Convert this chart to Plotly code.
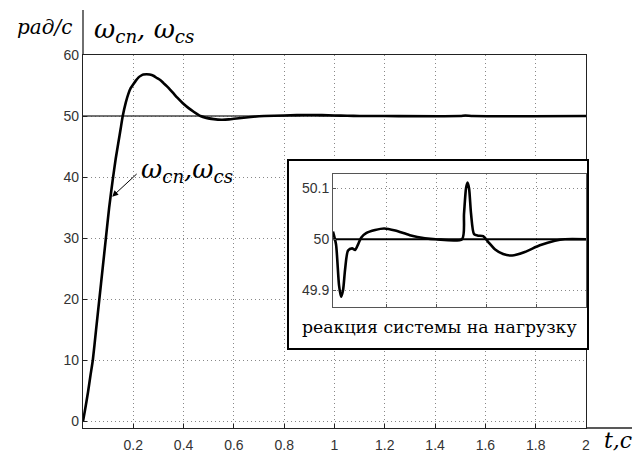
import plotly.graph_objects as go

# ---- main response data ----
t_main = [0, 0.007, 0.02, 0.03, 0.039, 0.052, 0.065, 0.078, 0.091, 0.104, 0.118, 0.13, 0.14,
          0.15, 0.158, 0.17, 0.18, 0.19, 0.2, 0.21, 0.22, 0.23, 0.24, 0.253, 0.265, 0.28,
          0.295, 0.307, 0.32, 0.333, 0.347, 0.36, 0.375, 0.397, 0.42, 0.44, 0.467, 0.49, 0.52,
          0.55, 0.58, 0.61, 0.667, 0.72, 0.8, 0.85, 0.9, 0.95, 1.0, 1.05, 1.1, 1.2, 1.5,
          1.52, 1.55, 2.0]
w_main = [0, 1.6, 4.8, 7.6, 10, 15, 20, 25, 30, 35, 39.5, 43, 45.5,
          48, 50, 52.2, 53.6, 54.6, 55.2, 55.8, 56.3, 56.6, 56.8, 56.85, 56.8, 56.6,
          56.2, 55.9, 55.4, 54.9, 54.3, 53.7, 53.0, 52.1, 51.3, 50.7, 50.0, 49.7, 49.5,
          49.4, 49.45, 49.6, 49.85, 50.0, 50.1, 50.15, 50.18, 50.15, 50.1, 50.05, 50.0, 50.0,
          50.0, 50.1, 50.0, 50.0]
ref_t = [0, 2]
ref_w = [50, 50]

x_ticks = [0.2, 0.4, 0.6, 0.8, 1.0, 1.2, 1.4, 1.6, 1.8, 2.0]
x_ticktext = ["0.2", "0.4", "0.6", "0.8", "1", "1.2", "1.4", "1.6", "1.8", "2"]
y_ticks = [0, 10, 20, 30, 40, 50, 60]
y_ticktext = ["0", "10", "20", "30", "40", "50", "60"]

# ---- inset (load response) data ----
x_in = [-0.06, 0.0, 0.06, 0.10, 0.14, 0.18, 0.24, 0.32, 0.38, 0.44, 0.50, 0.60, 0.78, 0.96,
        1.18, 1.47, 1.77, 1.99, 2.51, 2.55, 2.59, 2.62, 2.65, 2.69, 2.75, 2.83, 2.93, 3.03,
        3.17, 3.33, 3.51, 3.76, 4.06, 4.36, 4.56, 4.98]
w_in = [50.015, 49.99, 49.91, 49.887, 49.90, 49.94, 49.978, 49.982, 49.979, 49.99, 50.003,
        50.012, 50.018, 50.021, 50.017, 50.008, 50.002, 50.0, 50.0, 50.05, 50.10, 50.111,
        50.10, 50.05, 50.01, 50.007, 50.006, 49.995, 49.98, 49.971, 49.968, 49.975, 49.988,
        49.997, 50.0, 50.0]
in_ref_x = [-0.06, 4.98]
in_ref_w = [50, 50]
in_xticks = [1, 2, 3, 4]
in_yticks = [49.9, 50.0, 50.1]
in_yticktext = ["49.9", "50", "50.1"]

GRID = "#888888"
GRIDDASH = "1px,3px"
AX = "#222222"
TICKFONT = dict(family="Liberation Sans, Arial, sans-serif", size=14, color="#333333")
SERIF = "DejaVu Serif, Liberation Serif, serif"

fig = go.Figure()

fig.add_trace(go.Scatter(x=ref_t, y=ref_w, mode="lines",
                         line=dict(color="#444444", width=1.5), xaxis="x", yaxis="y",
                         hoverinfo="skip"))
fig.add_trace(go.Scatter(x=t_main, y=w_main, mode="lines", line_shape="spline",
                         line=dict(color="black", width=2.6, smoothing=0.5),
                         xaxis="x", yaxis="y"))

# invisible trace for the white box subplot
fig.add_trace(go.Scatter(x=[0], y=[0], mode="markers", marker=dict(opacity=0),
                         xaxis="x2", yaxis="y2", hoverinfo="skip"))

fig.add_trace(go.Scatter(x=in_ref_x, y=in_ref_w, mode="lines",
                         line=dict(color="black", width=2.2), xaxis="x3", yaxis="y3",
                         hoverinfo="skip"))
fig.add_trace(go.Scatter(x=x_in, y=w_in, mode="lines", line_shape="spline",
                         line=dict(color="black", width=2.6, smoothing=0.7),
                         xaxis="x3", yaxis="y3"))

W, H = 640, 453
ML, MR, MT, MB = 83, 37, 55, 25
PW = W - ML - MR
PH = H - MT - MB


def px(x):
    return (x - ML) / PW


def py(y):
    return (H - MB - y) / PH


fig.update_layout(
    width=W, height=H,
    margin=dict(l=ML, r=MR, t=MT, b=MB, autoexpand=False),
    paper_bgcolor="white", plot_bgcolor="white",
    showlegend=False,
    xaxis=dict(domain=[0, px(586)], range=[0, 2], tickvals=x_ticks, ticktext=x_ticktext,
               showgrid=True, gridcolor=GRID, griddash=GRIDDASH, gridwidth=1,
               showline=True, linecolor=AX, linewidth=1.3, mirror=True,
               ticks="inside", ticklen=4, tickcolor=AX, tickfont=TICKFONT,
               ticklabelstandoff=4, automargin=False, zeroline=False, anchor="y"),
    yaxis=dict(domain=[0, 1], range=[-1.1, 60], tickvals=y_ticks, ticktext=y_ticktext,
               showgrid=True, gridcolor=GRID, griddash=GRIDDASH, gridwidth=1,
               showline=True, linecolor=AX, linewidth=1.3, mirror=True,
               ticks="inside", ticklen=4, tickcolor=AX, tickfont=TICKFONT,
               automargin=False, zeroline=False, anchor="x"),
    xaxis2=dict(domain=[px(289), px(587)], range=[0, 1], showgrid=False, zeroline=False,
                showticklabels=False, showline=True, linecolor="black", linewidth=2.2,
                mirror=True, anchor="y2"),
    yaxis2=dict(domain=[py(348), py(161)], range=[0, 1], showgrid=False, zeroline=False,
                showticklabels=False, showline=True, linecolor="black", linewidth=2.2,
                mirror=True, anchor="x2"),
    xaxis3=dict(domain=[px(333), px(586)], range=[-0.06, 4.98], tickvals=in_xticks,
                showticklabels=False, showgrid=True, gridcolor=GRID, griddash=GRIDDASH,
                showline=True, linecolor="#555555", linewidth=1, mirror=True,
                ticks="inside", ticklen=3, tickcolor="#555555", zeroline=False, anchor="y3"),
    yaxis3=dict(domain=[py(307), py(174)], range=[49.867, 50.128], tickvals=in_yticks,
                ticktext=in_yticktext, showgrid=True, gridcolor=GRID, griddash=GRIDDASH,
                showline=True, linecolor="#555555", linewidth=1, mirror=True,
                ticks="inside", ticklen=3, tickcolor="#555555", tickfont=TICKFONT,
                zeroline=False, anchor="x3"),
)

fig.update_layout(shapes=[
    dict(type="line", xref="paper", yref="paper", x0=0, x1=0, y0=1, y1=py(10),
         line=dict(color=AX, width=1.3)),
    dict(type="line", xref="paper", yref="paper", x0=px(586), x1=px(632), y0=0, y1=0,
         line=dict(color=AX, width=1.3)),
])

annotations = [
    dict(xref="paper", yref="paper", x=px(44), y=py(27), xanchor="center", yanchor="middle",
         text="<i>рад/с</i>", showarrow=False, font=dict(family=SERIF, size=20, color="black")),
    dict(xref="paper", yref="paper", x=px(92), y=py(31), xanchor="left", yanchor="middle",
         text="<i>ω<sub>cn</sub>, ω<sub>cs</sub></i>", showarrow=False,
         font=dict(family=SERIF, size=26, color="black")),
    dict(xref="paper", yref="paper", x=px(618), y=py(440), xanchor="center", yanchor="middle",
         text="<i>t,c</i>", showarrow=False, font=dict(family=SERIF, size=22, color="black")),
    dict(xref="paper", yref="paper", x=px(139), y=py(170), xanchor="left", yanchor="middle",
         text="<i>ω<sub>cn</sub>,ω<sub>cs</sub></i>", showarrow=False,
         font=dict(family=SERIF, size=26, color="black")),
    dict(xref="x", yref="y", x=0.116, y=36.8, ax=26, ay=-24, text="", showarrow=True,
         arrowhead=2, arrowsize=1.2, arrowwidth=1, arrowcolor="black"),
    dict(xref="paper", yref="paper", x=px(439), y=py(327), xanchor="center", yanchor="middle",
         text="реакция системы на нагрузку", showarrow=False,
         font=dict(family=SERIF, size=17.3, color="black")),
]
fig.update_layout(annotations=annotations)

fig.write_html("out.html")
